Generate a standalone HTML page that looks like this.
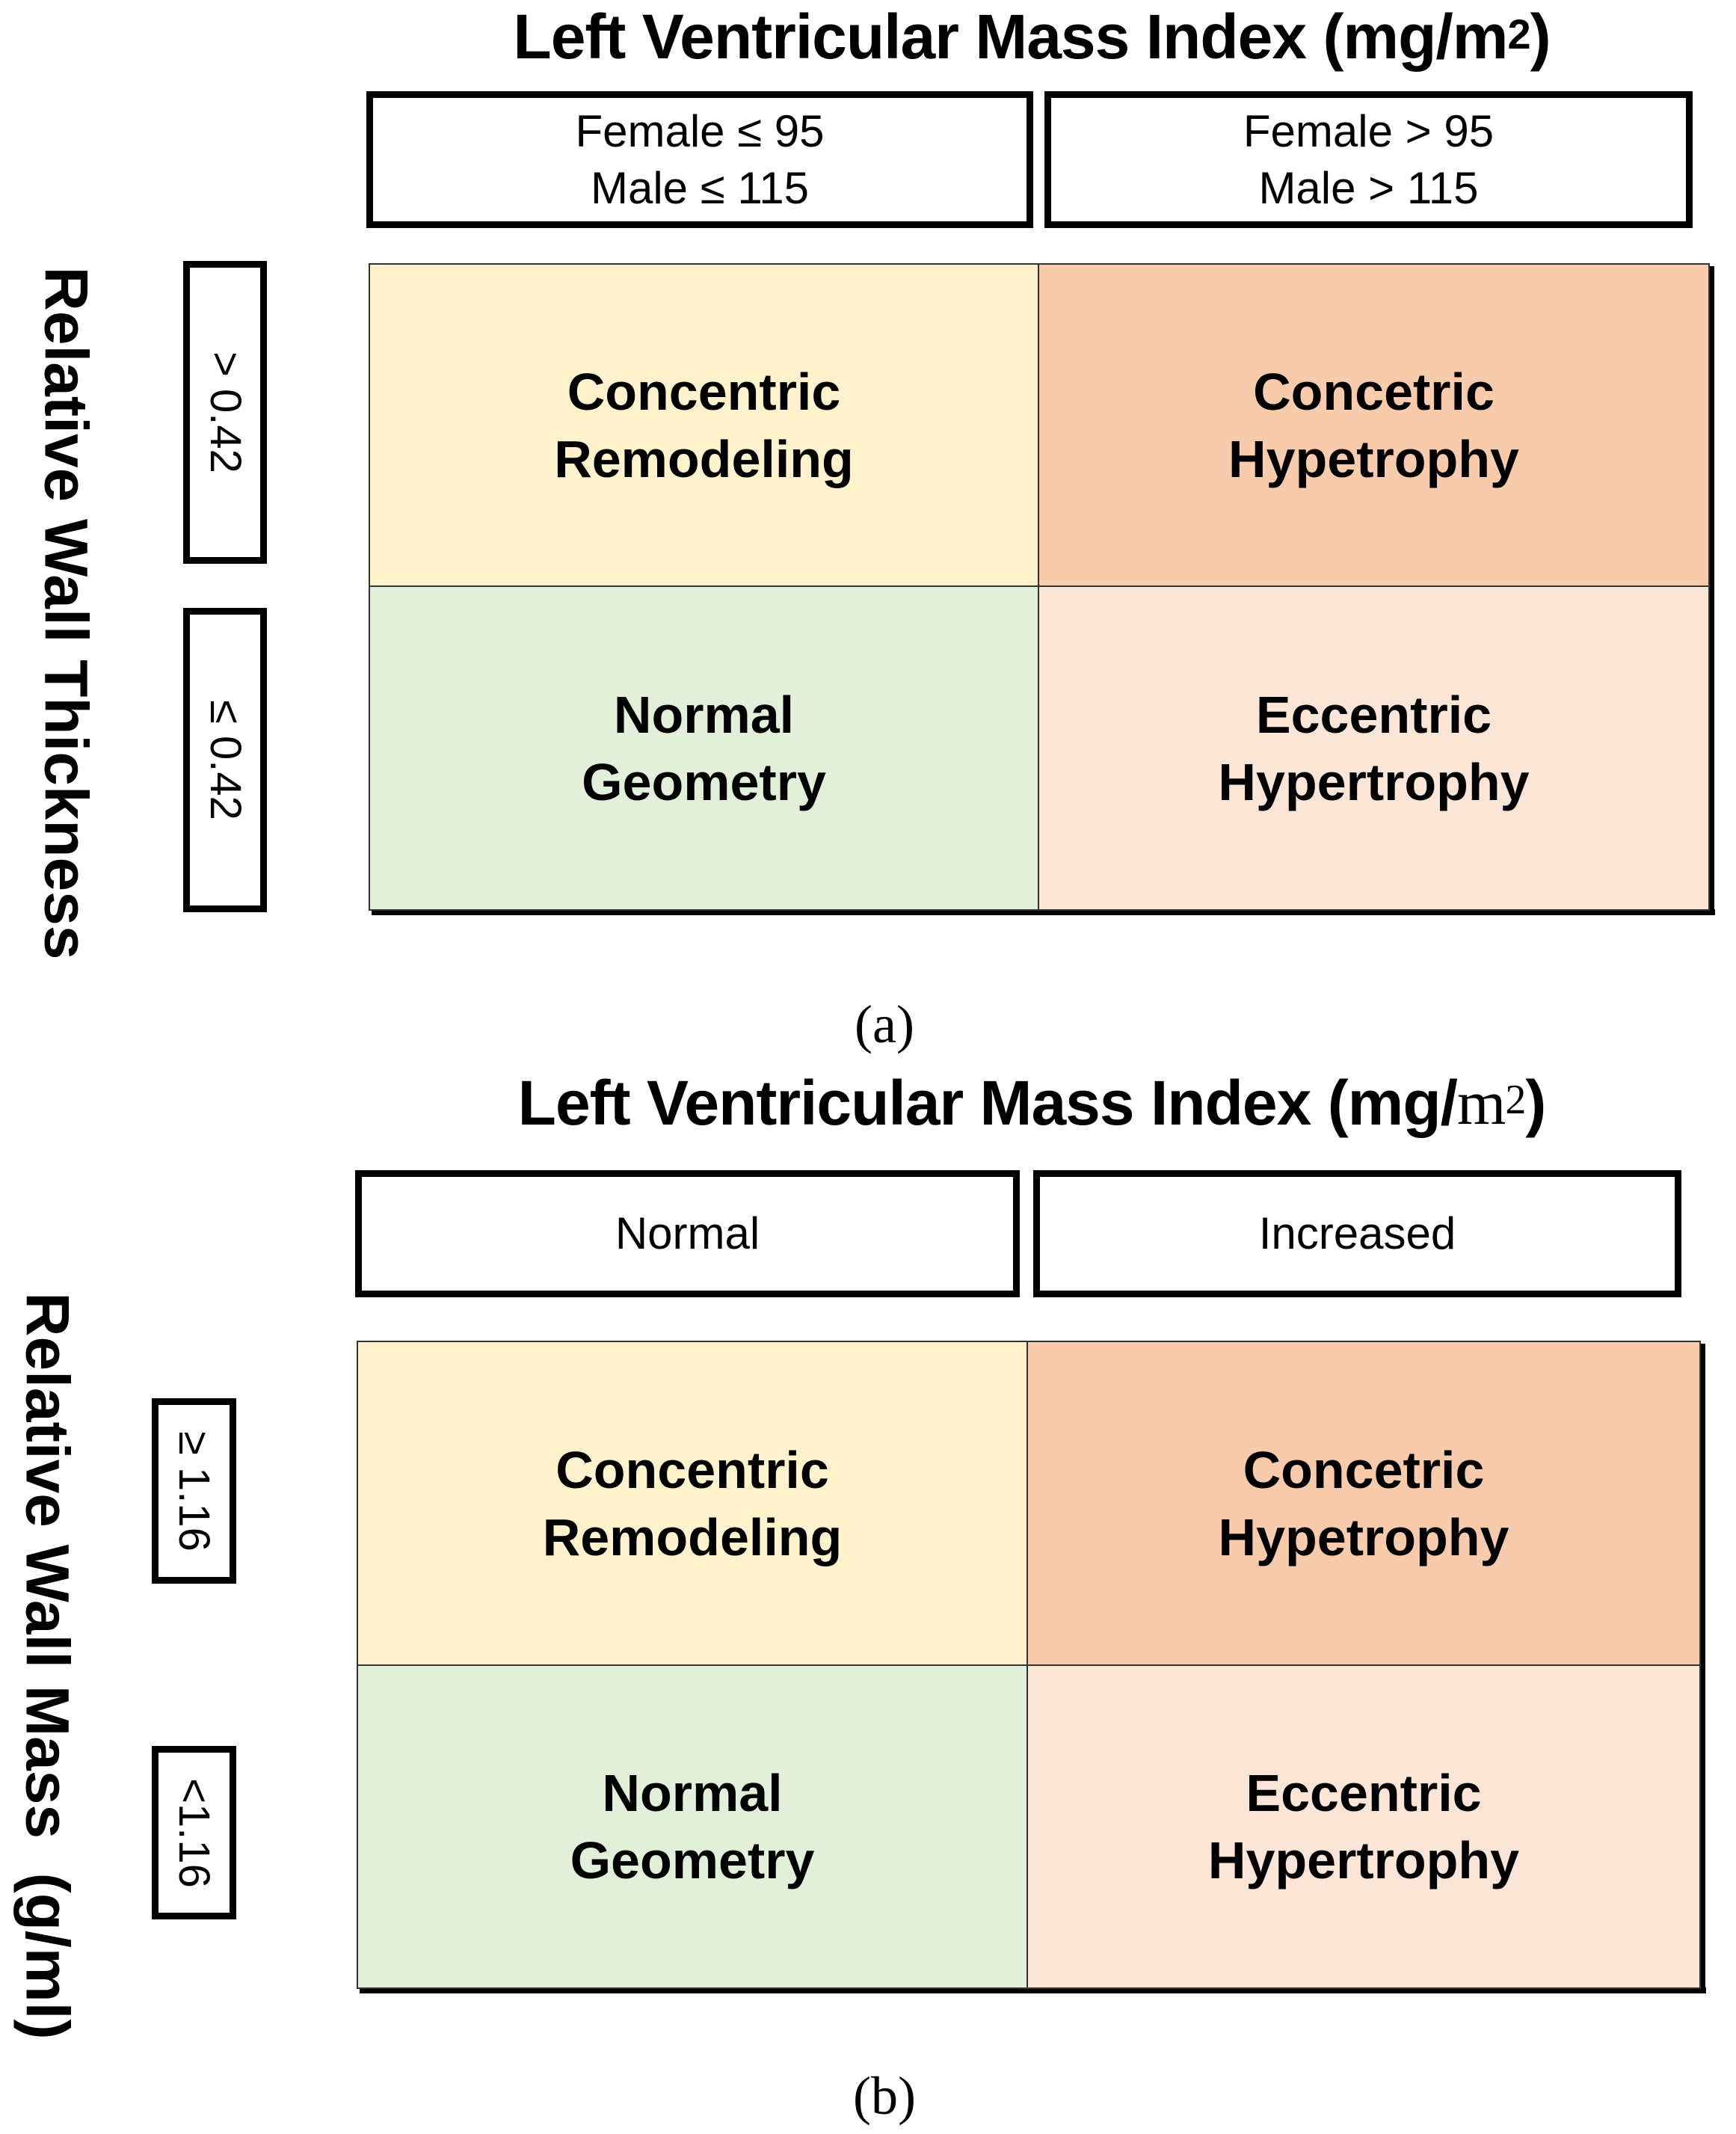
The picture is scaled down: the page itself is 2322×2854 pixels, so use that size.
<!DOCTYPE html>
<html><head><meta charset="utf-8"><style>
body{margin:0;width:2322px;height:2854px;background:#fff;position:relative;overflow:hidden;font-family:"Liberation Sans",sans-serif;color:#000}
.a{position:absolute;box-sizing:border-box;display:flex;align-items:center;justify-content:center;text-align:center}
.t{font-weight:bold;font-size:84px;white-space:nowrap;letter-spacing:-1px}
.h{border:9px solid #000;font-size:60px;line-height:76px;flex-direction:column}
.c{font-weight:bold;font-size:70px;line-height:90px;border:2px solid #333;flex-direction:column}
.v{border:9px solid #000;font-size:58px}
.v span,.ax span{transform:rotate(90deg);white-space:nowrap;display:block}
.ax{font-weight:bold;font-size:82px}
.cap{font-family:"Liberation Serif",serif;font-size:72px}
.sh{position:absolute;background:#000}
sup{font-size:56px;position:relative;top:-4px}
</style></head><body>
<!-- (a) -->
<div class="a t" style="left:0;width:2760px;top:0;height:98px">Left Ventricular Mass Index (mg/m<sup>2</sup>)</div>
<div class="a h" style="left:490px;top:122px;width:892px;height:183px"><div>Female ≤ 95</div><div>Male ≤ 115</div></div>
<div class="a h" style="left:1397px;top:122px;width:867px;height:183px"><div>Female &gt; 95</div><div>Male &gt; 115</div></div>
<div class="sh" style="left:497px;top:1216px;width:1797px;height:8px"></div>
<div class="sh" style="left:2285px;top:356px;width:8px;height:868px"></div>
<div class="a c" style="left:493px;top:352px;width:897px;height:433px;background:#fff2cc"><div>Concentric</div><div>Remodeling</div></div>
<div class="a c" style="left:1388px;top:352px;width:899px;height:433px;background:#f8cbad"><div>Concetric</div><div>Hypetrophy</div></div>
<div class="a c" style="left:493px;top:783px;width:897px;height:435px;background:#e2efd9"><div>Normal</div><div>Geometry</div></div>
<div class="a c" style="left:1388px;top:783px;width:899px;height:435px;background:#fbe5d6"><div>Eccentric</div><div>Hypertrophy</div></div>
<div class="a v" style="left:245px;top:349px;width:112px;height:405px"><span>&gt; 0.42</span></div>
<div class="a v" style="left:245px;top:813px;width:112px;height:407px"><span>≤ 0.42</span></div>
<div class="a ax" style="left:37px;top:780px;width:100px;height:80px"><span>Relative Wall Thickness</span></div>
<div class="a cap" style="left:1083px;top:1325px;width:200px;height:90px">(a)</div>
<!-- (b) -->
<div class="a t" style="left:0;width:2760px;top:1426px;height:98px">Left Ventricular Mass Index (mg/<span style="font-family:'Liberation Serif',serif;font-weight:normal">m</span><sup style="font-family:'Liberation Serif',serif;font-weight:normal">2</sup>)</div>
<div class="a h" style="left:475px;top:1565px;width:889px;height:170px">Normal</div>
<div class="a h" style="left:1382px;top:1565px;width:867px;height:170px">Increased</div>
<div class="sh" style="left:481px;top:2658px;width:1801px;height:8px"></div>
<div class="sh" style="left:2273px;top:1797px;width:8px;height:869px"></div>
<div class="a c" style="left:477px;top:1793px;width:898px;height:435px;background:#fff2cc"><div>Concentric</div><div>Remodeling</div></div>
<div class="a c" style="left:1373px;top:1793px;width:902px;height:435px;background:#f8cbad"><div>Concetric</div><div>Hypetrophy</div></div>
<div class="a c" style="left:477px;top:2226px;width:898px;height:434px;background:#e2efd9"><div>Normal</div><div>Geometry</div></div>
<div class="a c" style="left:1373px;top:2226px;width:902px;height:434px;background:#fbe5d6"><div>Eccentric</div><div>Hypertrophy</div></div>
<div class="a v" style="left:203px;top:1870px;width:113px;height:248px"><span>≥ 1.16</span></div>
<div class="a v" style="left:203px;top:2335px;width:113px;height:232px"><span>&lt;1.16</span></div>
<div class="a ax" style="left:13px;top:2188px;width:100px;height:80px"><span>Relative Wall Mass&nbsp; (g/ml)</span></div>
<div class="a cap" style="left:1083px;top:2758px;width:200px;height:90px">(b)</div>
</body></html>
